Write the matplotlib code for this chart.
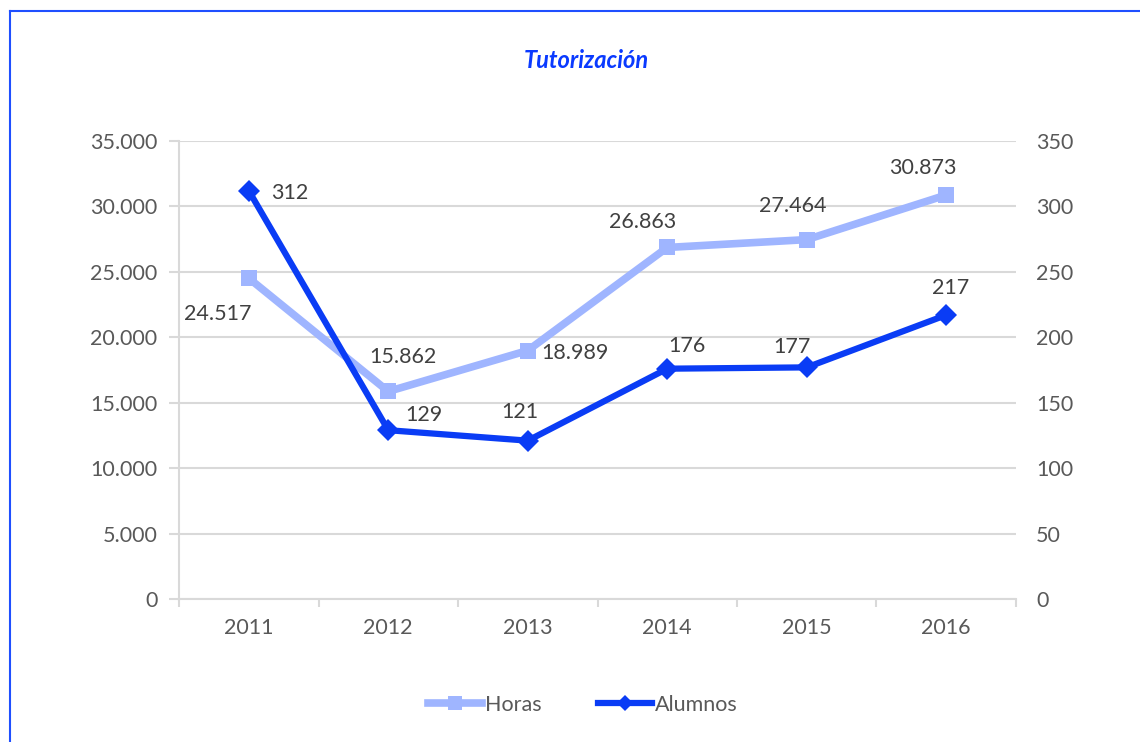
import matplotlib
matplotlib.use("Agg")
import matplotlib.pyplot as plt
from matplotlib.lines import Line2D

plt.rcParams['font.family'] = ['Lato', 'DejaVu Sans']

years = ["2011", "2012", "2013", "2014", "2015", "2016"]
horas = [24517, 15862, 18989, 26863, 27464, 30873]
alumnos = [312, 129, 121, 176, 177, 217]
horas_labels = ["24.517", "15.862", "18.989", "26.863", "27.464", "30.873"]
alumnos_labels = ["312", "129", "121", "176", "177", "217"]
left_ticks = [0, 5000, 10000, 15000, 20000, 25000, 30000, 35000]
left_tick_labels = ["0", "5.000", "10.000", "15.000", "20.000", "25.000", "30.000", "35.000"]
right_ticks = [0, 50, 100, 150, 200, 250, 300, 350]

c_light = "#9FB5FF"
c_dark = "#0A3CF5"
c_title = "#0A3AFF"
c_tick = "#595959"
c_lab = "#404040"
c_grid = "#D9D9D9"
fs = 15.5

W, H = 1140, 742
fig = plt.figure(figsize=(W / 100, H / 100), dpi=100)
ax = fig.add_axes([179 / W, 1 - 599 / H, (1016 - 179) / W, (599 - 141) / H])
ax2 = ax.twinx()

x = list(range(len(years)))

ax.set_xlim(-0.5, len(years) - 0.5)
ax.set_ylim(0, 35000)
ax2.set_ylim(0, 350)

ax.set_yticks(left_ticks)
ax.set_yticklabels(left_tick_labels)
ax2.set_yticks(right_ticks)
ax2.set_yticklabels([str(t) for t in right_ticks])

ax.grid(axis='y', color=c_grid, linewidth=1.5, zorder=0)
ax.set_axisbelow(True)

for a in (ax, ax2):
    for s in a.spines.values():
        s.set_visible(False)
ax.spines['left'].set_visible(True)
ax.spines['left'].set_color(c_grid)
ax.spines['left'].set_linewidth(1.5)
ax.spines['bottom'].set_visible(True)
ax.spines['bottom'].set_color(c_grid)
ax.spines['bottom'].set_linewidth(1.5)

ax.set_xticks(x)
ax.set_xticklabels(years)
ax.set_xticks([i - 0.5 for i in range(len(years) + 1)], minor=True)
ax.tick_params(axis='x', which='major', length=0, pad=14, labelsize=fs, labelcolor=c_tick)
ax.tick_params(axis='x', which='minor', length=6, width=1.5, color=c_grid)
ax.tick_params(axis='y', length=7, width=1.5, color=c_grid, labelsize=fs, labelcolor=c_tick, pad=8.6)
ax2.tick_params(axis='y', length=0, labelsize=fs, labelcolor=c_tick, pad=14.4)

ax.plot(x, horas, color=c_light, linewidth=5.5, marker='s', markersize=12,
        markeredgewidth=0, zorder=3, solid_capstyle='round')
ax2.plot(x, alumnos, color=c_dark, linewidth=4.5, marker='D', markersize=11,
         markeredgewidth=0, zorder=4, solid_capstyle='round')

h_off = [(-31, -36), (15, 34), (47, -2), (-25, 25), (-14, 34), (-23, 27)]
a_off = [(41, -2), (36, 15), (-8, 29), (20, 23), (-15, 20), (4, 27)]

for i in x:
    ax.annotate(horas_labels[i], (x[i], horas[i]), xytext=h_off[i], textcoords='offset pixels',
                ha='center', va='center', fontsize=fs, color=c_lab, zorder=6)
    ax2.annotate(alumnos_labels[i], (x[i], alumnos[i]), xytext=a_off[i], textcoords='offset pixels',
                 ha='center', va='center', fontsize=fs, color=c_lab, zorder=6)

fig.text(586 / W, 1 - 61 / H, "Tutorización", ha='center', va='center', fontsize=17,
         fontweight='bold', fontstyle='italic', color=c_title)

handles = [
    Line2D([0], [0], color=c_light, linewidth=5.5, marker='s', markersize=10, markeredgewidth=0),
    Line2D([0], [0], color=c_dark, linewidth=4.5, marker='D', markersize=8, markeredgewidth=0),
]
leg = fig.legend(handles, ["Horas", "Alumnos"], loc='center', bbox_to_anchor=(583 / W, 1 - 705 / H),
                 ncol=2, frameon=False, fontsize=fs, handlelength=2.5, handletextpad=0.15,
                 columnspacing=2.6)
for t in leg.get_texts():
    t.set_color(c_tick)

# chart border (left and top visible)
fig.add_artist(Line2D([9.5 / W, 9.5 / W], [0, 1 - 10.5 / H], transform=fig.transFigure,
                      color="#1F4FFF", linewidth=1.5))
fig.add_artist(Line2D([9.5 / W, 1], [1 - 10.5 / H, 1 - 10.5 / H], transform=fig.transFigure,
                      color="#1F4FFF", linewidth=1.5))

fig.savefig("out.png", dpi=100)
